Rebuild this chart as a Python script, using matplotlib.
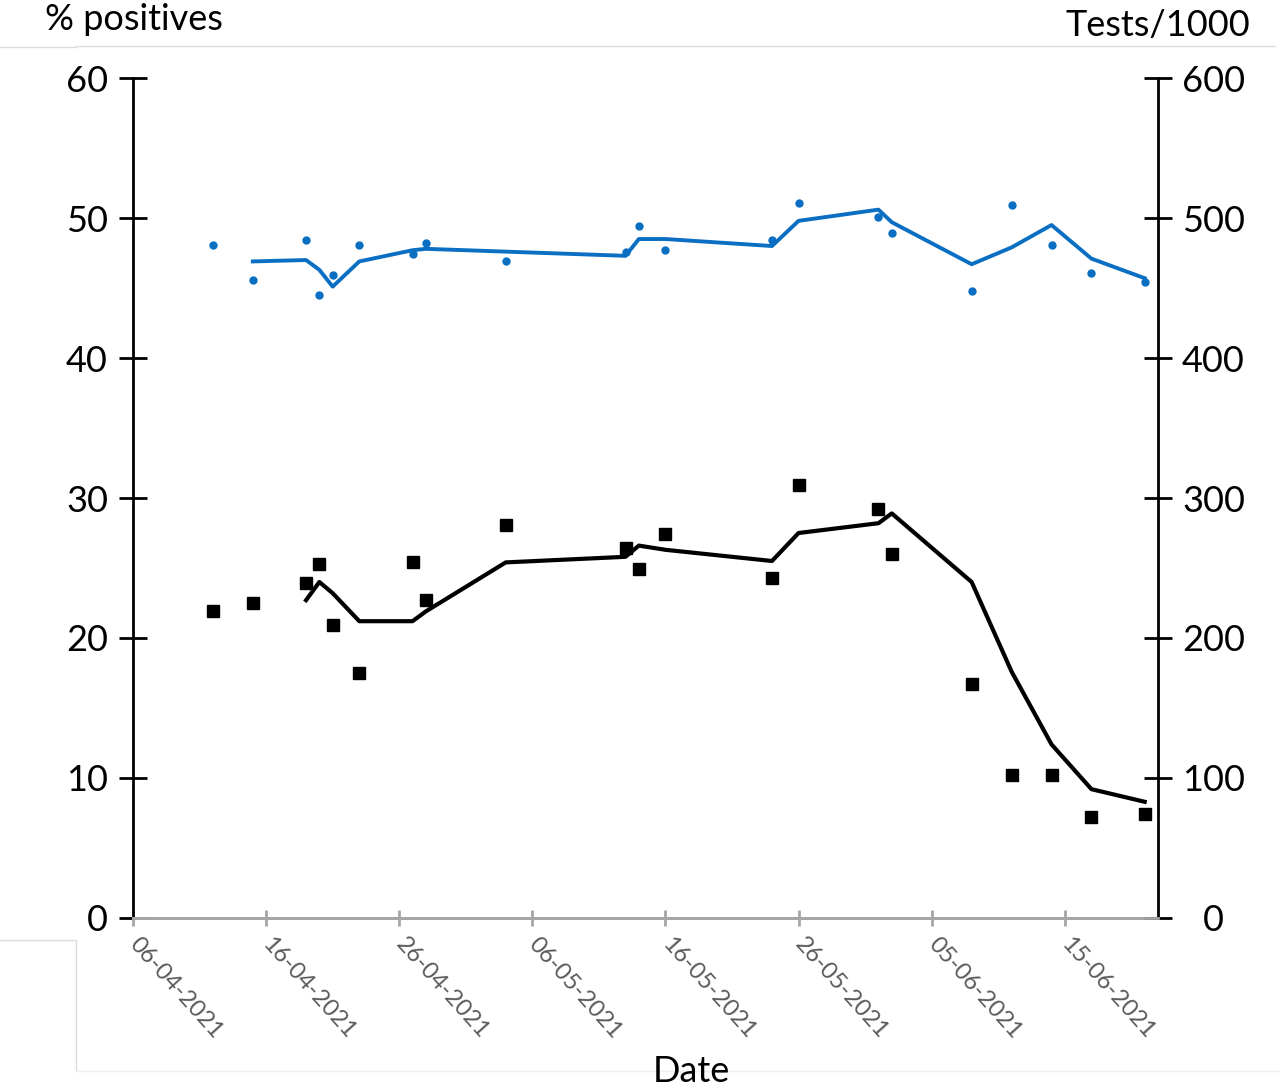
import datetime
import numpy as np
import matplotlib
matplotlib.use('Agg')
import matplotlib.pyplot as plt
import matplotlib.dates as mdates
from matplotlib.lines import Line2D

plt.rcParams['font.family'] = ['Lato', 'DejaVu Sans']

# day of each observation (days after 06-04-2021)
days = [6, 9, 13, 14, 15, 17, 21, 22, 28, 37, 38, 40, 48, 50, 56, 57, 63, 66, 69, 72, 76]

# % positives (black squares)
pos_pts = [21.9, 22.5, 23.9, 25.3, 20.9, 17.5, 25.4, 22.7, 28.1, 26.4, 24.9, 27.4,
           24.3, 30.9, 29.2, 26.0, 16.7, 10.2, 10.2, 7.2, 7.4]
# smoothed % positives (black line), starts at 3rd point
pos_line = [np.nan, np.nan, 22.7, 24.0, 23.2, 21.2, 21.2, 21.9, 25.4, 25.8, 26.6, 26.3,
            25.5, 27.5, 28.2, 28.9, 24.0, 17.6, 12.4, 9.2, 8.3]

# tests per 1000 (blue dots)
tests_pts = [481, 456, 484, 445, 459, 481, 474, 482, 469, 476, 494, 477,
             484, 511, 501, 489, 448, 509, 481, 461, 454]
# smoothed tests per 1000 (blue line), starts at 2nd point
tests_line = [np.nan, 469, 470, 463, 451, 469, 477, 478, 476, 473, 485, 485,
              480, 498, 506, 497, 467, 479, 495, 471, 457]

start = datetime.date(2021, 4, 6)
dates = [start + datetime.timedelta(days=d) for d in days]
xticks = [start + datetime.timedelta(days=10 * i) for i in range(8)]

fig = plt.figure(figsize=(12.8, 10.87), dpi=100)
ax = fig.add_axes([0.1039, 0.1555, 0.8008, 0.7727])
ax2 = ax.twinx()

grey = '#a6a6a6'
blue = '#0a6fc2'

ax.plot(dates, pos_line, color='black', lw=3)
ax.plot(dates, pos_pts, ls='none', marker='s', ms=8.5, color='black')
ax2.plot(dates, tests_line, color=blue, lw=2.8)
ax2.plot(dates, tests_pts, ls='none', marker='o', ms=5, color=blue)

ax.set_xlim(start, start + datetime.timedelta(days=77.1))
ax.set_ylim(0, 60)
ax2.set_ylim(0, 600)
ax.set_yticks(range(0, 61, 10))
ax2.set_yticks(range(0, 601, 100))
ax.set_xticks(xticks)
ax.xaxis.set_major_formatter(mdates.DateFormatter('%d-%m-%Y'))

for a in (ax, ax2):
    a.spines['top'].set_visible(False)
    a.spines['bottom'].set_color(grey)
    a.spines['bottom'].set_linewidth(2)
ax.spines['left'].set_linewidth(2)
ax.spines['right'].set_visible(False)
ax2.spines['left'].set_visible(False)
ax2.spines['right'].set_linewidth(2)

ax.tick_params(axis='y', direction='inout', length=20, width=2, labelsize=26, pad=8)
ax2.tick_params(axis='y', direction='inout', length=20, width=2, labelsize=26, pad=30)
for lab in ax2.get_yticklabels():
    lab.set_horizontalalignment('center')
ax.tick_params(axis='x', direction='inout', length=12, width=2, color=grey,
               labelsize=17, labelcolor='#595959', pad=10)
for lab in ax.get_xticklabels():
    lab.set_rotation(-48)
    lab.set_rotation_mode('anchor')
    lab.set_horizontalalignment('left')
    lab.set_verticalalignment('center')

fig.text(0.035, 0.982, '% positives', fontsize=26, ha='left', va='center')
fig.text(0.977, 0.977, 'Tests/1000', fontsize=26, ha='right', va='center')
fig.text(0.54, 0.014, 'Date', fontsize=26, ha='center', va='center')

# faint frame lines from the original screenshot
lc = '#dcdcdc'
fig.add_artist(Line2D([0, 0.059, 0.059, 0.996], [0.957, 0.957, 0.958, 0.958], color=lc, lw=1))
fig.add_artist(Line2D([0, 0.059, 0.059], [0.135, 0.135, 0.015], color=lc, lw=1))
fig.add_artist(Line2D([0.059, 1], [0.015, 0.015], color='#efefef', lw=1))

fig.savefig('out.png', dpi=100)
